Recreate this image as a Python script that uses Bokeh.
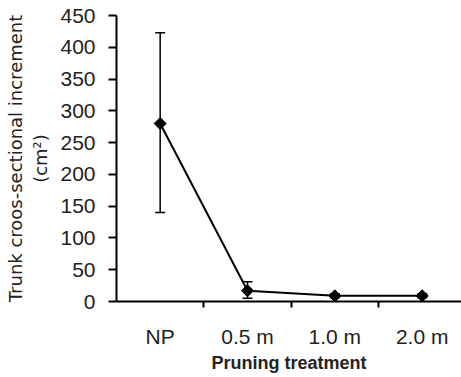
from bokeh.plotting import figure
from bokeh.models import ColumnDataSource, FixedTicker, Whisker, Range1d
from bokeh.embed import file_html
from bokeh.resources import INLINE

categories = ["NP", "0.5 m", "1.0 m", "2.0 m"]
means = [280, 17, 9, 9]
upper = [423, 31, 12, 12]
lower = [140, 5, 6, 6]
y_ticks = [0, 50, 100, 150, 200, 250, 300, 350, 400, 450]

xs = [i + 0.5 for i in range(len(categories))]
src = ColumnDataSource(dict(x=xs, y=means, upper=upper, lower=lower))

p = figure(width=461, height=377, output_backend="svg", toolbar_location=None,
           x_range=Range1d(0, 3.95), y_range=Range1d(0, 450),
           min_border_left=116, min_border_right=0, min_border_top=15, min_border_bottom=76)
p.background_fill_color = "white"
p.border_fill_color = "white"
p.outline_line_color = None
p.xgrid.visible = False
p.ygrid.visible = False

w = Whisker(base="x", upper="upper", lower="lower", source=src, line_color="black",
            line_width=1.5, level="glyph")
w.upper_head.size = 10
w.lower_head.size = 10
w.upper_head.line_width = 1.5
w.lower_head.line_width = 1.5
p.add_layout(w)
p.line("x", "y", source=src, line_color="black", line_width=2)
p.scatter("x", "y", source=src, marker="square", angle=0.785398, size=8.5, color="black")

font = "Liberation Sans"
p.xaxis.ticker = FixedTicker(ticks=xs, minor_ticks=[1, 2, 3])
p.xaxis.major_label_overrides = {x: c for x, c in zip(xs, categories)}
p.xaxis.major_tick_out = 0
p.xaxis.major_tick_in = 0
p.xaxis.minor_tick_out = 6
p.xaxis.minor_tick_in = 0
p.xaxis.minor_tick_line_width = 2
p.xaxis.major_label_standoff = 17
p.xaxis.axis_label = "Pruning treatment"
p.xaxis.axis_label_text_font = font
p.xaxis.axis_label_text_font_style = "bold"
p.xaxis.axis_label_text_font_size = "18px"
p.xaxis.axis_label_standoff = 2

p.yaxis.ticker = FixedTicker(ticks=y_ticks, minor_ticks=[])
p.yaxis.major_tick_out = 8
p.yaxis.major_tick_in = 0
p.yaxis.major_tick_line_width = 2
p.yaxis.major_label_standoff = 13
p.yaxis.axis_label = "Trunk croos-sectional increment\n(cm\u00b2)"
p.yaxis.axis_label_text_font = "DejaVu Sans"
p.yaxis.axis_label_text_font_style = "normal"
p.yaxis.axis_label_text_font_size = "18px"
p.yaxis.axis_label_standoff = 6

for ax in (p.xaxis, p.yaxis):
    ax.axis_line_color = "black"
    ax.axis_line_width = 2
    ax.major_tick_line_color = "black"
    ax.minor_tick_line_color = "black"
    ax.major_label_text_font = font
    ax.major_label_text_font_size = "21px"
    ax.major_label_text_color = "#222222"
    ax.axis_label_text_color = "#222222"

open("out.html", "w").write(file_html(p, INLINE))
